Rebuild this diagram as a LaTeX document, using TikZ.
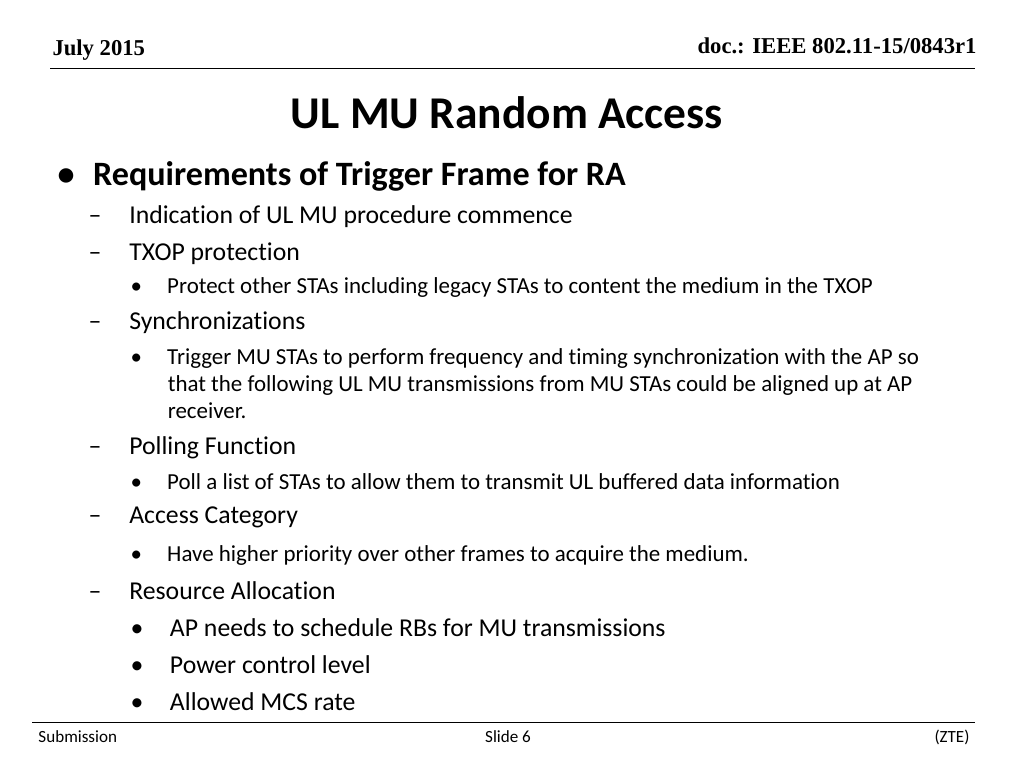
\documentclass[tikz,border=0pt]{standalone}
\usepackage{fontspec}
\setmainfont{Carlito}[Ligatures={NoCommon}]
\newfontfamily\hdrfont{Liberation Serif}
\tikzset{every picture/.style={line width=0.75pt}}
\tikzset{
  lvlone/.style={anchor=west,inner sep=0pt,font=\fontsize{25.6}{30}\selectfont\bfseries},
  lvltwo/.style={anchor=west,inner sep=0pt,font=\fontsize{19.3}{23}\selectfont},
  lvlthree/.style={anchor=north west,inner sep=0pt,align=left,font=\fontsize{17.2}{20.25}\selectfont},
  hdr/.style={inner sep=0pt,font=\hdrfont\fontsize{17}{20}\selectfont\bfseries},
  ftr/.style={inner sep=0pt,font=\fontsize{12.8}{15}\selectfont}
}
\begin{document}
\begin{tikzpicture}[x=0.75pt,y=0.75pt,yscale=-1,xscale=1]

\useasboundingbox (0,0) rectangle (1024,768);

% Header
\node [hdr,anchor=west] (date) at (52,50) {July 2015};
\node [hdr,anchor=east] (doc) at (977,46) {doc.: IEEE 802.11-15/0843r1};
\draw (50,68) -- (975,68);

% Title
\node [inner sep=0pt,font=\fontsize{34.1}{40}\selectfont\bfseries] (title) at (507,113) {UL MU Random Access};

% Body
\node [lvlone] (req) at (57,176) {\textbullet\hspace{14pt}Requirements of Trigger Frame for RA};
\node [lvltwo] (ind) at (88,217) {--\hspace{21pt}Indication of UL MU procedure commence};
\node [lvltwo] (txop) at (88,254) {--\hspace{21pt}TXOP protection};
\node [lvlthree,anchor=west] (txopa) at (130,288) {\textbullet\hspace{19pt}Protect other STAs including legacy STAs to content the medium in the TXOP};
\node [lvltwo] (sync) at (88,323) {--\hspace{21pt}Synchronizations};
\node [lvlthree] (synca) at (130,348) {\textbullet\hspace{19pt}Trigger MU STAs to perform frequency and timing synchronization with the AP so\\
\hspace{28pt}that the following UL MU transmissions from MU STAs could be aligned up at AP\\
\hspace{28pt}receiver.};
\node [lvltwo] (poll) at (88,448) {--\hspace{21pt}Polling Function};
\node [lvlthree,anchor=west] (polla) at (130,482) {\textbullet\hspace{19pt}Poll a list of STAs to allow them to transmit UL buffered data information};
\node [lvltwo] (acc) at (88,517) {--\hspace{21pt}Access Category};
\node [lvlthree,anchor=west] (acca) at (130,555) {\textbullet\hspace{19pt}Have higher priority over other frames to acquire the medium.};
\node [lvltwo] (res) at (88,591) {--\hspace{21pt}Resource Allocation};
\node [lvltwo] (resa) at (130,628) {\textbullet\hspace{20pt}AP needs to schedule RBs for MU transmissions};
\node [lvltwo] (resb) at (130,665) {\textbullet\hspace{20pt}Power control level};
\node [lvltwo] (resc) at (130,702) {\textbullet\hspace{20pt}Allowed MCS rate};

% Footer
\draw (32,722) -- (975,722);
\node [ftr,anchor=west] (sub) at (38,737) {Submission};
\node [ftr] (slide) at (508,737) {Slide 6};
\node [ftr,anchor=east] (zte) at (970,737) {(ZTE)};

\end{tikzpicture}
\end{document}
